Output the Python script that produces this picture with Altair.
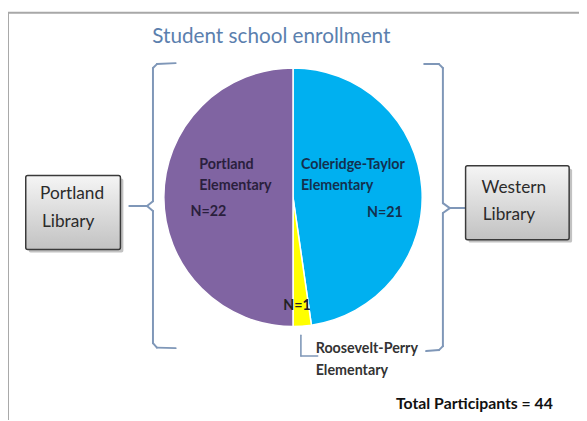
import altair as alt
import pandas as pd

# ---- data ----
schools = ["Coleridge-Taylor Elementary", "Roosevelt-Perry Elementary", "Portland Elementary"]
counts = [21, 1, 22]
slice_order = [1, 2, 3]
slice_colors = ["#00B0F0", "#FFFF00", "#8064A2"]
title_text = "Student school enrollment"
library_labels = ["Portland Library", "Western Library"]
total = sum(counts)

df = pd.DataFrame({"school": schools, "n": counts, "o": slice_order})

FONT = "Lato"
BR = "#7f97b8"
OFF = 8  # page margin
one = alt.Data(values=[{"k": 0}])


def label(text, x, y, size=14.5, weight="bold", color="#222222", align="left"):
    return alt.Chart(one).mark_text(
        text=text, fontSize=size, fontWeight=weight, color=color,
        align=align, baseline="middle", font=FONT
    ).encode(x=alt.value(x - OFF), y=alt.value(y - OFF))


def seg(x1, y1, x2, y2, color=BR, w=2):
    return alt.Chart(one).mark_rule(color=color, strokeWidth=w, strokeCap="round").encode(
        x=alt.value(x1 - OFF), y=alt.value(y1 - OFF),
        x2=alt.value(x2 - OFF), y2=alt.value(y2 - OFF))


def box(x1, y1, x2, y2):
    grad = alt.Gradient(gradient="linear",
                        stops=[alt.GradientStop(color="#f5f5f5", offset=0),
                               alt.GradientStop(color="#c2c2c2", offset=1)],
                        x1=0, x2=0, y1=0, y2=1)
    shadow = alt.Chart(one).mark_rect(color="#9a9a9a", opacity=0.6, cornerRadius=2).encode(
        x=alt.value(x1 - OFF + 3), y=alt.value(y1 - OFF + 3),
        x2=alt.value(x2 - OFF + 3), y2=alt.value(y2 - OFF + 3))
    main = alt.Chart(one).mark_rect(fill=grad, stroke="#3a3a3a", strokeWidth=1.5, cornerRadius=2).encode(
        x=alt.value(x1 - OFF), y=alt.value(y1 - OFF),
        x2=alt.value(x2 - OFF), y2=alt.value(y2 - OFF))
    return [shadow, main]


frame = alt.Chart(one).mark_rect(filled=False, stroke="#a8a8a8", strokeWidth=2).encode(
    x=alt.value(8 - OFF), y=alt.value(10 - OFF), x2=alt.value(640), y2=alt.value(480))

pie = alt.Chart(df).mark_arc(radius=131, stroke="white", strokeWidth=1.5).encode(
    theta=alt.Theta("n:Q", stack=True),
    color=alt.Color("school:N", scale=alt.Scale(domain=schools, range=slice_colors), legend=None),
    order=alt.Order("o:Q"),
    x=alt.value(297 - OFF), y=alt.value(197 - OFF),
)

layers = [frame, pie]

# braces
layers += [
    seg(178, 61, 159, 62), seg(159, 62, 155, 66), seg(155, 66, 155, 201),
    seg(155, 201, 149, 206), seg(149, 206, 155, 211), seg(131, 206, 149, 206),
    seg(155, 211, 155, 345), seg(155, 345, 159, 349.5), seg(159, 349.5, 178, 350),
    seg(430, 62, 445, 62), seg(445, 62, 449, 66), seg(449, 66, 449, 203),
    seg(449, 203, 456, 208), seg(456, 208, 449, 213), seg(456, 208, 472, 208),
    seg(449, 213, 449, 348), seg(449, 348, 445, 352), seg(445, 352, 432, 353),
    seg(305, 337, 305, 358, w=1.6), seg(305, 358, 322, 358, w=1.6),
]

# boxes
layers += box(26, 175, 122, 250)
layers += box(472, 165, 577, 240)

p_words = library_labels[0].split(" ")
w_words = library_labels[1].split(" ")
layers += [
    label(p_words[0], 73, 194, size=17.5, weight="normal", color="#2b2b2b", align="center"),
    label(p_words[1], 69, 222, size=17.5, weight="normal", color="#2b2b2b", align="center"),
    label(w_words[0], 521, 188, size=17.5, weight="normal", color="#2b2b2b", align="center"),
    label(w_words[1], 516, 215, size=17.5, weight="normal", color="#2b2b2b", align="center"),
]

# slice labels
pe = schools[2].split(" ")
ct = schools[0].split(" ")
rp = schools[1].split(" ")
layers += [
    label(pe[0], 202, 164, color="#2a1f3d"),
    label(pe[1], 202, 186, color="#2a1f3d"),
    label(f"N={counts[2]}", 193, 212, color="#2a1f3d"),
    label(ct[0], 305, 164, color="#13304f"),
    label(ct[1], 305, 186, color="#13304f"),
    label(f"N={counts[0]}", 372, 213, color="#13304f"),
    label(f"N={counts[1]}", 287, 307, color="#222222"),
    label(rp[0], 320, 351, color="#333333"),
    label(rp[1], 320, 373, color="#333333"),
]

layers += [
    label(title_text, 275, 35, size=21, weight="normal", color="#5b80ae", align="center"),
    label(f"Total Participants = {total}", 481, 407, size=16, weight="bold", color="#111111", align="center"),
]

chart = alt.layer(*layers).properties(
    width=579, height=412, padding=0, autosize="none", background="white"
).configure_view(stroke="transparent")

chart.save("out.html", embed_options={"renderer": "svg", "actions": False})
